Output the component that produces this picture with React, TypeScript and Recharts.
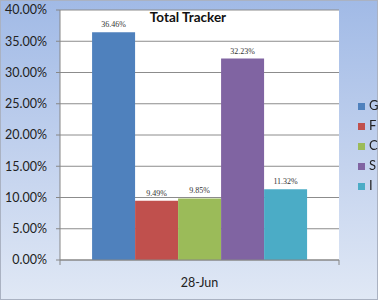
import { Bar, BarChart, CartesianGrid, LabelList, Legend, XAxis, YAxis } from "recharts";

const categories = ["28-Jun"];
const seriesNames = ["G", "F", "C", "S", "I"];
const seriesColors = ["#4F81BD", "#C0504D", "#9BBB59", "#8064A2", "#4BACC6"];
const gValues = [36.46];
const fValues = [9.49];
const cValues = [9.85];
const sValues = [32.23];
const iValues = [11.32];
const yTicks = [0, 5, 10, 15, 20, 25, 30, 35, 40];

const seriesValues = [gValues, fValues, cValues, sValues, iValues];

const data = categories.map((name, i) => {
  const row: Record<string, number | string> = { name };
  seriesNames.forEach((s, k) => {
    row[s] = seriesValues[k][i];
  });
  return row;
});

const pct = (v: number) => `${Number(v).toFixed(2)}%`;

function DateTick(props: { x?: number; y?: number; payload?: { value: string; offset?: number } }) {
  const { x = 0, y = 0, payload } = props;
  const half = payload?.offset ?? 0;
  return (
    <g>
      <line x1={x - half} x2={x - half} y1={y} y2={y + 5} stroke="#868686" />
      <line x1={x + half} x2={x + half} y1={y} y2={y + 5} stroke="#868686" />
      <text x={x} y={y + 27} textAnchor="middle" fill="#222" fontSize={12.5} fontFamily="Lato">
        {payload?.value}
      </text>
    </g>
  );
}

function ValueLabel(props: { x?: number; y?: number; width?: number; value?: number | string }) {
  const { x = 0, y = 0, width = 0, value } = props;
  return (
    <text x={x + width / 2} y={y - 5} textAnchor="middle" fill="#333" fontSize={8} fontFamily="Liberation Serif">
      {pct(Number(value ?? 0))}
    </text>
  );
}

export default function App() {
  return (
    <div style={{ position: "fixed", left: 0, top: 0, width: 378, height: 300 }}>
      <div
        style={{
          position: "absolute",
          inset: 0,
          boxSizing: "border-box",
          border: "1px solid #aab2c2",
          background: "linear-gradient(to bottom, #a1bae6 0%, #c4d3ee 55%, #e0e8f5 100%)",
        }}
      />
      <BarChart
        width={378}
        height={300}
        data={data}
        margin={{ top: 10, right: 9, left: 0, bottom: 0 }}
        barCategoryGap="11.5%"
        barGap={0}
        style={{ position: "absolute", left: 0, top: 0, fontFamily: "Lato" }}
      >
        <CartesianGrid vertical={false} stroke="#8c8c8c" fill="#ffffff" />
        <XAxis
          dataKey="name"
          height={40}
          stroke="#868686"
          tickLine={false}
          tickSize={0}
          tickMargin={0}
          tick={<DateTick />}
        />
        <YAxis
          width={60}
          domain={[0, 40]}
          ticks={yTicks}
          tickFormatter={pct}
          stroke="#868686"
          tickSize={4}
          tickMargin={9}
          tick={{ fill: "#222", fontSize: 12.5, fontFamily: "Lato" }}
        />
        <Legend
          layout="vertical"
          align="right"
          verticalAlign="middle"
          iconType="square"
          iconSize={7}
          itemSorter={(item: { value?: string }) => seriesNames.indexOf(String(item.value))}
          formatter={(value: string) => <span style={{ color: "#222" }}>{value}</span>}
          wrapperStyle={{
            width: 30,
            boxSizing: "border-box",
            paddingLeft: 19,
            top: 95,
            fontSize: 13,
            lineHeight: "20px",
            fontFamily: "Lato",
          }}
        />
        {seriesNames.map((s, k) => (
          <Bar key={s} dataKey={s} name={s} fill={seriesColors[k]} isAnimationActive={false}>
            <LabelList dataKey={s} content={<ValueLabel />} />
          </Bar>
        ))}
      </BarChart>
      <div
        style={{
          position: "absolute",
          left: 0,
          width: 378,
          top: 9,
          textAlign: "center",
          fontFamily: "Lato",
          fontWeight: 700,
          fontSize: 13.5,
          color: "#111",
          pointerEvents: "none",
        }}
      >
        <span style={{ position: "relative", left: -1 }}>Total Tracker</span>
      </div>
    </div>
  );
}
